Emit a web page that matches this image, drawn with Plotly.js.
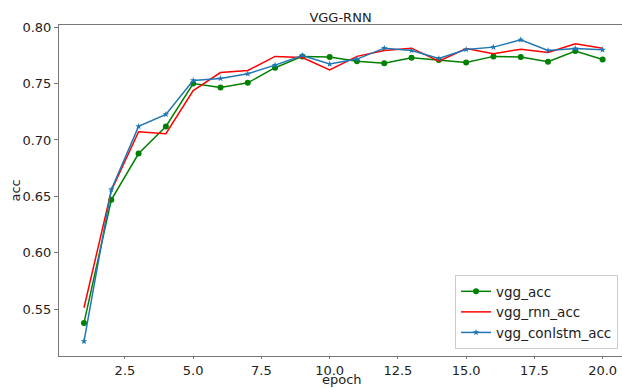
<!DOCTYPE html>
<html>
<head>
<meta charset="utf-8">
<script src="https://cdn.plot.ly/plotly-3.0.1.min.js"></script>
<style>html,body{margin:0;padding:0;background:#fff;}#chart{width:622px;height:388px;}</style>
</head>
<body>
<div id="chart"></div>
<script>
const epochs = [1,2,3,4,5,6,7,8,9,10,11,12,13,14,15,16,17,18,19,20];
const vggAcc = [0.538,0.647,0.688,0.712,0.750,0.7465,0.7506,0.764,0.774,0.7734,0.7698,0.768,0.7727,0.7707,0.7686,0.774,0.7734,0.7692,0.7787,0.7712];
const vggRnnAcc = [0.5514,0.655,0.7073,0.7055,0.7438,0.7597,0.7615,0.774,0.773,0.7621,0.774,0.7792,0.7813,0.7698,0.781,0.7763,0.7804,0.7774,0.7851,0.7813];
const vggConlstmAcc = [0.5217,0.656,0.712,0.7226,0.7527,0.7544,0.7586,0.7663,0.7748,0.7672,0.7716,0.7813,0.7792,0.7721,0.7801,0.7822,0.7887,0.7792,0.781,0.7798];
const seriesNames = ['vgg_acc','vgg_rnn_acc','vgg_conlstm_acc'];
const xTicks = [2.5,5.0,7.5,10.0,12.5,15.0,17.5,20.0];
const yTicks = [0.55,0.60,0.65,0.70,0.75,0.80];

const txt = {family: 'DejaVu Sans', size: 13, color: '#222'};
const traces = [
  {x: epochs, y: vggAcc, name: seriesNames[0], mode: 'lines+markers',
   line: {color: '#008000', width: 1.5}, marker: {color: '#008000', size: 6, symbol: 'circle'}},
  {x: epochs, y: vggRnnAcc, name: seriesNames[1], mode: 'lines',
   line: {color: '#ff0000', width: 1.5}},
  {x: epochs, y: vggConlstmAcc, name: seriesNames[2], mode: 'lines+markers',
   line: {color: '#1f77b4', width: 1.5}, marker: {color: '#1f77b4', size: 5, symbol: 'star'}}
];
const layout = {
  width: 622, height: 388,
  margin: {l: 59, r: 0, t: 25, b: 32},
  paper_bgcolor: '#fff', plot_bgcolor: '#fff',
  font: txt,
  title: {text: 'VGG-RNN', font: txt,
          x: 0.5, xref: 'paper', xanchor: 'center', y: 1 - 17.5/388, yref: 'container', yanchor: 'middle'},
  xaxis: {range: [0.084, 20.71], tickvals: xTicks, ticktext: xTicks.map(v => v.toFixed(1)),
          showgrid: false, zeroline: false, showline: true, mirror: true, linecolor: '#777', linewidth: 1,
          ticks: 'outside', ticklen: 2, tickcolor: '#777', tickfont: txt},
  yaxis: {range: [0.5087, 0.8018], tickvals: yTicks, ticktext: yTicks.map(v => v.toFixed(2)),
          showgrid: false, zeroline: false, showline: true, mirror: false, linecolor: '#777', linewidth: 1,
          ticks: 'outside', ticklen: 4, tickcolor: '#777', tickfont: txt},
  annotations: [
    {text: 'epoch', xref: 'paper', yref: 'paper', x: (342 - 59) / 563, y: -(388 - 356) / 331,
     xanchor: 'center', yanchor: 'bottom', showarrow: false, font: txt, borderpad: 0},
    {text: 'acc', xref: 'paper', yref: 'paper', x: (15 - 59) / 563, y: 0.5,
     xanchor: 'center', yanchor: 'middle', textangle: -90, showarrow: false, font: txt}
  ],
  legend: {x: 0.993, xanchor: 'right', y: 0.021, yanchor: 'bottom',
           bgcolor: 'rgba(255,255,255,0.8)', bordercolor: '#ccc', borderwidth: 1,
           font: {family: 'DejaVu Sans', size: 13.5, color: '#222'}, tracegroupgap: 0},
  showlegend: true
};
Plotly.newPlot('chart', traces, layout, {displayModeBar: false, staticPlot: true});
</script>
</body>
</html>
